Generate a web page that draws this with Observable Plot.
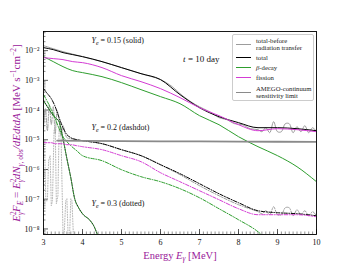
<!DOCTYPE html>
<html><head><meta charset="utf-8">
<script src="https://cdn.jsdelivr.net/npm/d3@7"></script>
<script src="https://cdn.jsdelivr.net/npm/@observablehq/plot@0.6"></script>
<style>
html,body{margin:0;padding:0;background:#fff;}
#wrap{position:relative;width:352px;height:264px;overflow:hidden;}
.legend{position:absolute;left:232px;top:34px;width:82px;height:67px;box-sizing:border-box;border:1px solid #ccc;border-radius:2px;background:rgba(255,255,255,0.9);font:6.7px "Liberation Serif","DejaVu Serif",serif;color:#222;}
.row{position:absolute;left:0;right:0;display:flex;align-items:center;}
.sw{width:15px;margin-left:3px;margin-right:5px;height:0;}
.txt{line-height:7px;white-space:nowrap;}
</style>
</head><body><div id="wrap"></div>
<script>
// ---------- data ----------
const xTicks = [3, 4, 5, 6, 7, 8, 9, 10];
const yTicks = [1e-8, 1e-7, 1e-6, 1e-5, 1e-4, 1e-3, 1e-2];

// Ye = 0.15 (solid)
const E15 = [3.0,3.25,3.5,3.75,4.0,4.5,5.0,5.5,6.0,6.5,7.0,7.5,8.0,8.5,9.0,9.5,10.0];
const total15 = [1.26e-2,1.08e-2,8.57e-3,7.33e-3,6.28e-3,4.26e-3,2.68e-3,1.68e-3,1.06e-3,3.30e-4,1.20e-4,6.00e-5,3.77e-5,2.55e-5,2.55e-5,2.36e-5,2.02e-5];
const fission15 = [5.81e-3,5.38e-3,4.98e-3,4.26e-3,3.94e-3,2.68e-3,1.44e-3,9.04e-4,5.26e-4,2.62e-4,1.20e-4,6.48e-5,3.22e-5,2.02e-5,2.36e-5,2.19e-5,1.87e-5];
const beta15 = [6.28e-3,4.26e-3,2.89e-3,2.12e-3,1.82e-3,1.33e-3,8.37e-4,4.86e-4,2.83e-4,1.64e-4,6.48e-5,3.22e-5,1.27e-5,5.86e-6,2.92e-6,1.24e-6,3.88e-7];
const Ebefore15 = [3.0,3.5,4.0,4.5,5.0,5.5,6.0,6.3,6.5,6.7,6.9,7.1,7.3,7.5,7.7,7.9,8.1,8.3,8.5,8.6,8.7,8.8,8.9,9.0,9.1,9.2,9.3,9.4,9.5,9.6,9.7,9.8,9.9,10.0];
const before15 = [1.47e-2,9.25e-3,6.28e-3,4.26e-3,2.68e-3,1.68e-3,1.06e-3,6.14e-4,3.57e-4,2.24e-4,1.52e-4,1.11e-4,8.17e-5,5.55e-5,4.75e-5,3.48e-5,3.22e-5,2.36e-5,2.19e-5,1.87e-5,2.55e-5,1.73e-5,4.07e-5,1.87e-5,1.87e-5,3.48e-5,3.48e-5,1.73e-5,2.76e-5,1.87e-5,2.98e-5,1.73e-5,2.55e-5,1.87e-5];

// Ye = 0.2 (dashdot)
const E20 = [3.0,3.1,3.2,3.3,3.4,3.5,3.6,3.7,3.85,4.0,4.5,5.0,5.5,6.0,6.5,7.0,7.5,8.0,8.5,9.0,9.5,10.0];
const total20 = [5.26e-4,3.57e-4,2.42e-4,1.30e-4,5.55e-5,2.55e-5,1.49e-5,1.18e-5,1.01e-5,9.33e-6,7.39e-6,4.64e-6,2.92e-6,1.45e-6,7.23e-7,3.33e-7,1.53e-7,7.62e-8,4.10e-8,3.51e-8,3.25e-8,2.78e-8];
const fission20 = [7.98e-6,7.98e-6,7.98e-6,7.39e-6,7.39e-6,7.39e-6,6.84e-6,6.84e-6,6.33e-6,5.86e-6,4.64e-6,2.92e-6,1.83e-6,7.80e-7,3.88e-7,1.93e-7,9.62e-8,4.79e-8,3.01e-8,3.01e-8,3.01e-8,2.57e-8];
const Ebeta20 = [3.0,3.1,3.2,3.3,3.4,3.5,3.6,3.7,3.85,4.0,4.5,5.0,5.5,6.0,6.5,7.0,7.5,8.0,8.5,8.65];
const beta20 = [3.30e-4,1.92e-4,1.03e-4,5.13e-5,2.36e-5,1.27e-5,8.63e-6,6.33e-6,4.30e-6,2.92e-6,1.98e-6,9.85e-7,5.73e-7,3.88e-7,2.26e-7,1.12e-7,4.79e-8,2.04e-8,8.05e-9,5.46e-9];
const Ebefore20 = [3.0,3.05,3.1,3.15,3.2,3.25,3.3,3.35,3.4,3.45,3.5,3.6,3.7,3.85,4.0,4.5,5.0,5.5,6.0,6.5,7.0,7.5,8.0,8.5,8.6,8.7,8.8,8.9,9.0,9.1,9.2,9.3,9.4,9.5,9.6,9.7,9.8,9.9,10.0];
const before20 = [2.36e-5,1.11e-4,2.02e-5,1.52e-4,3.22e-5,1.30e-4,1.60e-5,9.55e-5,4.40e-5,1.37e-5,2.98e-5,1.18e-5,1.09e-5,1.01e-5,9.33e-6,7.39e-6,4.64e-6,2.92e-6,1.45e-6,6.69e-7,2.85e-7,1.31e-7,6.53e-8,3.80e-8,3.25e-8,4.10e-8,3.01e-8,5.59e-8,3.01e-8,3.01e-8,5.18e-8,5.18e-8,2.78e-8,4.43e-8,3.01e-8,4.10e-8,2.78e-8,3.80e-8,2.78e-8];

// Ye = 0.3 (dotted)
const E30 = [3.0,3.1,3.2,3.3,3.4,3.5,3.6,3.7,3.8,3.9,4.0,4.2,4.3,4.4];
const total30 = [2.07e-4,1.30e-4,8.17e-5,5.55e-5,4.07e-5,1.09e-5,2.31e-6,5.30e-7,1.04e-7,5.18e-8,3.25e-8,1.89e-8,1.19e-8,5.46e-9];
const beta30 = [2.07e-4,1.30e-4,8.17e-5,5.55e-5,4.07e-5,1.09e-5,2.31e-6,5.30e-7,1.04e-7,5.18e-8,3.25e-8,1.89e-8,1.19e-8,5.46e-9];
const Ebefore30 = [3.0,3.03,3.06,3.1,3.13,3.17,3.2,3.23,3.27,3.3,3.33,3.37,3.4,3.45,3.5,3.53,3.57,3.6,3.63,3.67,3.7,3.73,3.77];
const before30 = [4.30e-6,5.01e-6,8.90e-8,8.90e-8,1.98e-6,2.92e-6,6.04e-8,8.90e-8,2.02e-5,2.98e-5,7.05e-8,1.31e-7,2.36e-5,1.37e-5,7.45e-9,6.38e-9,8.90e-8,1.04e-7,6.38e-9,6.38e-9,1.04e-7,8.90e-8,4.68e-9];

// AMEGO continuum sensitivity
const Eamego = [3.35,4,5,6,7,8,9,10];
const amego = [9.3e-6,9.2e-6,9.0e-6,8.9e-6,8.8e-6,8.7e-6,8.6e-6,8.5e-6];

// annotations
const notes = [
  {x: 4.23, y: 2.17e-2, t: "Y_e = 0.15 (solid)"},
  {x: 4.23, y: 2.55e-5, t: "Y_e = 0.2 (dashdot)"},
  {x: 4.23, y: 7.05e-8, t: "Y_e = 0.3 (dotted)"}
];
const timeNote = [{x: 6.58, y: 5.38e-3, t: "t = 10 day"}];

// ---------- styling ----------
const C = {before: "#9c9c9c", total: "#000000", beta: "#2e9e2e", fission: "#d43cd4", amego: "#8a8a8a", label: "#9a209a"};
const DASHDOT = "3.5,1.5,1,1.5", DOTTED = "1,1.6";
const W = 352, H = 264, ML = 43, MR = 36, MT = 31, MB = 30;
const FW = W - ML - MR, FH = H - MT - MB;

const rows = (xs, ys) => xs.map((x, i) => ({x, y: ys[i]}));
const ln = (xs, ys, o) => Plot.line(rows(xs, ys), {x: "x", y: "y", clip: true, strokeWidth: 1, curve: "monotone-x", ...o});

const supMap = {"-": "⁻", "0": "⁰", "1": "¹", "2": "²", "3": "³", "4": "⁴", "5": "⁵", "6": "⁶", "7": "⁷", "8": "⁸", "9": "⁹"};
const yFmt = d => "10" + String(Math.round(Math.log10(d))).split("").map(c => supMap[c]).join("");

const yMinor = [];
for (const t of [1e-9, ...yTicks]) for (let k = 2; k <= 9; k++) { const v = t * k; if (v > 6.5e-9 && v < 4.4e-2) yMinor.push(v); }
const xMinor = d3.range(30, 101).map(i => i / 10);

const plot = Plot.plot({
  width: W, height: H, marginLeft: ML, marginRight: MR, marginTop: MT, marginBottom: MB,
  style: {fontFamily: '"Liberation Serif","DejaVu Serif",serif', fontSize: "8px", color: "#111", background: "#fff"},
  x: {domain: [3, 10]},
  y: {type: "log", domain: [6.5e-9, 4.4e-2]},
  marks: [
    Plot.tickY(yMinor, {y: d => d, insetRight: FW - 2.5, stroke: "#555", strokeWidth: 0.7}),
    Plot.tickY(yTicks, {y: d => d, insetRight: FW - 5, stroke: "#333", strokeWidth: 0.8}),
    Plot.tickX(xMinor, {x: d => d, insetTop: FH - 2.5, stroke: "#666", strokeWidth: 0.7}),
    Plot.tickX(xTicks, {x: d => d, insetTop: FH - 5, stroke: "#333", strokeWidth: 0.8}),
    Plot.axisY({ticks: yTicks, tickFormat: yFmt, tickSize: 0, tickPadding: 4, label: "YLABEL", labelAnchor: "center", labelOffset: 31, labelArrow: "none"}),
    Plot.axisX({ticks: xTicks, tickFormat: d => String(d), tickSize: 0, tickPadding: 5, label: "XLABEL", labelAnchor: "center", labelOffset: 24, labelArrow: "none"}),
    // before radiation transfer
    ln(Ebefore15, before15, {stroke: C.before, curve: "catmull-rom"}),
    ln(Ebefore20, before20, {stroke: C.before, curve: "catmull-rom", strokeDasharray: DASHDOT}),
    ln(Ebefore30, before30, {stroke: "#b8b8b8", curve: "linear", strokeDasharray: DOTTED}),
    // totals
    ln(E15, total15, {stroke: C.total}),
    ln(E20, total20, {stroke: C.total, strokeDasharray: DASHDOT}),
    ln(E30, total30, {stroke: C.total, strokeDasharray: DOTTED}),
    // beta-decay
    ln(E15, beta15, {stroke: C.beta}),
    ln(Ebeta20, beta20, {stroke: C.beta, strokeDasharray: DASHDOT}),
    ln(E30, beta30, {stroke: C.beta, strokeDasharray: "1,1.6", strokeDashoffset: 1.3}),
    // fission
    ln(E15, fission15, {stroke: C.fission}),
    ln(E20, fission20, {stroke: C.fission, strokeDasharray: DASHDOT}),
    // AMEGO
    ln(Eamego, amego, {stroke: C.amego, strokeWidth: 1.8, curve: "linear"}),
    Plot.frame({stroke: "#000", strokeWidth: 0.9}),
    Plot.text(notes, {x: "x", y: "y", text: "t", textAnchor: "start", fontSize: 8, fill: "#111"}),
    Plot.text(timeNote, {x: "x", y: "y", text: "t", textAnchor: "start", fontSize: 9, fill: "#111"})
  ]
});

// rich text for labels and annotations
plot.querySelectorAll("text").forEach(t => {
  const s = t.textContent;
  if (s === "YLABEL") {
    t.setAttribute("fill", C.label);
    t.setAttribute("font-size", "11");
    t.innerHTML =
      `<tspan font-style="italic">E</tspan><tspan dy="-4" font-size="7.5">2</tspan><tspan dx="-3.8" dy="7" font-size="7.5" font-style="italic">γ</tspan>` +
      `<tspan dy="-3" font-style="italic">F</tspan><tspan dy="3" font-size="7.5" font-style="italic">E</tspan>` +
      `<tspan dy="-3"> = </tspan><tspan font-style="italic">E</tspan><tspan dy="-4" font-size="7.5">2</tspan><tspan dx="-3.8" dy="7" font-size="7.5" font-style="italic">γ</tspan>` +
      `<tspan dy="-3" font-style="italic">dN</tspan><tspan dy="3" font-size="7.5"><tspan font-style="italic">γ</tspan>, obs</tspan>` +
      `<tspan dy="-3" font-style="italic">/dEdtdA</tspan><tspan> [MeV s</tspan><tspan dy="-4" font-size="7.5">−1</tspan><tspan dy="4">cm</tspan><tspan dy="-4" font-size="7.5">−2</tspan><tspan dy="4">]</tspan>`;
  } else if (s === "XLABEL") {
    t.setAttribute("fill", C.label);
    t.setAttribute("font-size", "10.5");
    t.innerHTML = `Energy <tspan font-style="italic">E</tspan><tspan dy="2.5" font-size="7.5" font-style="italic">γ</tspan><tspan dy="-2.5"> [MeV]</tspan>`;
  } else if (s.startsWith("Y_e")) {
    t.innerHTML = `<tspan font-style="italic">Y</tspan><tspan dy="2" font-size="6" font-style="italic">e</tspan><tspan dy="-2">${s.slice(3)}</tspan>`;
  } else if (s.startsWith("t = ")) {
    t.innerHTML = `<tspan font-style="italic">t</tspan>${s.slice(1)}`;
  }
});

const wrap = document.getElementById("wrap");
wrap.appendChild(plot);

// legend (HTML overlay)
const legendItems = [
  {top: 1.5, h: 15, lines: ["total-before", "radiation transfer"], color: C.before, w: 1},
  {top: 18.5, h: 8, lines: ["total"], color: C.total, w: 1},
  {top: 28.5, h: 8, lines: ["<i>β</i>-decay"], color: C.beta, w: 1},
  {top: 38.5, h: 8, lines: ["fission"], color: C.fission, w: 1},
  {top: 49.5, h: 15, lines: ["AMEGO-continuum", "sensitivity limit"], color: C.amego, w: 1.6}
];
const lg = document.createElement("div");
lg.className = "legend";
lg.innerHTML = legendItems.map(it =>
  `<div class="row" style="top:${it.top}px;height:${it.h}px"><div class="sw" style="border-top:${it.w}px solid ${it.color}"></div><div class="txt">${it.lines.join("<br>")}</div></div>`
).join("");
wrap.appendChild(lg);
</script>
</body></html>
